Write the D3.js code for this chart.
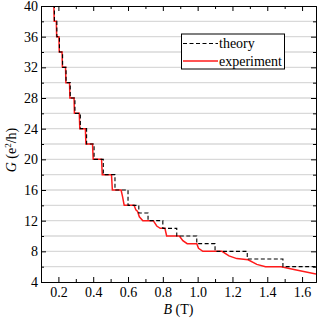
<!DOCTYPE html>
<html><head><meta charset="utf-8">
<script src="https://cdn.jsdelivr.net/npm/d3@7"></script>
<style>
html,body{margin:0;padding:0;background:#fff;}
svg{display:block;font-family:"Liberation Serif","DejaVu Serif",serif;}
</style></head>
<body>
<svg id="chart" width="317" height="323"></svg>
<script>
// ---- data ----
const theoryLevels = [40,38,36,34,32,30,28,26,24,22,20,18,16,14,13,12,11,10,9,8,7,6];
const theoryStartB = 0.165;
const theoryDropsB = [0.177,0.191,0.206,0.224,0.244,0.268,0.295,0.326,0.362,0.405,0.458,0.525,0.600,0.662,0.715,0.800,0.880,0.995,1.100,1.285,1.490];
const theoryEndB = 1.68;

const expB = [0.162,0.174,0.176,0.188,0.190,0.203,0.205,0.221,0.223,0.241,0.243,0.264,0.266,0.290,0.292,0.320,0.323,0.355,0.358,0.396,0.400,0.448,0.452,0.505,0.510,0.560,0.568,0.578,0.635,0.645,0.655,0.665,0.685,0.745,0.765,0.785,0.812,0.822,0.895,0.915,0.940,0.995,1.005,1.030,1.140,1.180,1.225,1.290,1.340,1.390,1.480,1.560,1.680];
const expG = [40.3,40,38,38,36,36,34,34,32,32,30,30,28,28,26,26,24,24,22,22,20,20,18,18,16,16,15.2,14,14,13.4,13.2,12.5,12,12,11.3,11,11,10,10,9.4,9,9,8.4,8,8,7.4,7.05,6.9,6.3,6,6,5.6,5.05];

const xMajorTicks = [0.2,0.4,0.6,0.8,1.0,1.2,1.4,1.6];
const xMinorTicks = [0.1,0.3,0.5,0.7,0.9,1.1,1.3,1.5];
const yMajorTicks = [4,8,12,16,20,24,28,32,36,40];
const yMinorTicks = [6,10,14,18,22,26,30,34,38];
const gridValues = [6,8,10,12,14,16,18,20,22,24,26,28,30,32,34,36,38];

// ---- layout ----
const L = 41, R = 316, T = 6, B = 282;
const svg = d3.select("#chart");
const x = d3.scaleLinear().domain([0.1, 1.68]).range([L, R]);
const y = d3.scaleLinear().domain([4, 40]).range([B, T]);

svg.append("defs").append("clipPath").attr("id","clip")
  .append("rect").attr("x",L).attr("y",T).attr("width",R-L).attr("height",B-T);

// grid
svg.append("g").selectAll("line").data(gridValues).join("line")
  .attr("x1",L).attr("x2",R).attr("y1",d=>y(d)).attr("y2",d=>y(d))
  .attr("stroke","#d9d9d9").attr("stroke-width",1.3);

// experiment
const line = d3.line().x(d=>x(d[0])).y(d=>y(d[1]));
const expData = expB.map((b,i)=>[b,expG[i]]);
svg.append("path").attr("clip-path","url(#clip)")
  .attr("d", line(expData)).attr("fill","none").attr("stroke","#ff1a1a").attr("stroke-width",1.5);

// theory
const thData = theoryLevels.map((g,i)=>[i===0?theoryStartB:theoryDropsB[i-1], g]);
thData.push([theoryEndB, theoryLevels[theoryLevels.length-1]]);
const stepLine = d3.line().x(d=>x(d[0])).y(d=>y(d[1])).curve(d3.curveStepAfter);
svg.append("path").attr("clip-path","url(#clip)")
  .attr("d", stepLine(thData)).attr("fill","none").attr("stroke","#000").attr("stroke-width",1.1)
  .attr("stroke-dasharray","4,2.5");

// axes (ticks inward)
function addAxis(gen, tx, ty){
  const g = svg.append("g").attr("transform",`translate(${tx},${ty})`).call(gen);
  g.select(".domain").attr("stroke","#000");
  return g;
}
const fontSize = 14;
// bottom
let g = addAxis(d3.axisBottom(x).tickValues(xMajorTicks).tickSize(-5).tickPadding(5).tickFormat(d3.format(".1f")),0,B);
g.selectAll("text").attr("font-size",fontSize).attr("font-family","Liberation Serif").attr("fill","#000");
addAxis(d3.axisBottom(x).tickValues(xMinorTicks).tickSize(-3).tickFormat(""),0,B).select(".domain").remove();
// top
g = addAxis(d3.axisTop(x).tickValues(xMajorTicks).tickSize(-5).tickFormat(""),0,T);
addAxis(d3.axisTop(x).tickValues(xMinorTicks).tickSize(-3).tickFormat(""),0,T).select(".domain").remove();
// left
g = addAxis(d3.axisLeft(y).tickValues(yMajorTicks).tickSize(-5).tickPadding(3),L,0);
g.selectAll("text").attr("font-size",fontSize).attr("font-family","Liberation Serif").attr("fill","#000");
addAxis(d3.axisLeft(y).tickValues(yMinorTicks).tickSize(-3).tickFormat(""),L,0).select(".domain").remove();
// right
addAxis(d3.axisRight(y).tickValues(yMajorTicks).tickSize(-5).tickFormat(""),R,0);
addAxis(d3.axisRight(y).tickValues(yMinorTicks).tickSize(-3).tickFormat(""),R,0).select(".domain").remove();
svg.selectAll(".tick line").attr("stroke","#000");
svg.selectAll(".domain").attr("stroke-width",1);

// axis titles
const xt = svg.append("text").attr("x",(L+R)/2).attr("y",314).attr("text-anchor","middle")
  .attr("font-size",14).attr("fill","#000");
xt.append("tspan").attr("font-style","italic").text("B");
xt.append("tspan").text(" (T)");

const yt = svg.append("text").attr("transform",`translate(16,150) rotate(-90)`).attr("text-anchor","middle")
  .attr("font-size",14).attr("fill","#000");
yt.append("tspan").attr("font-style","italic").text("G");
yt.append("tspan").text(" (e");
yt.append("tspan").attr("font-size",9).attr("dy",-5).text("2");
yt.append("tspan").attr("dy",5).text("/h)");

// legend
const lg = svg.append("g");
lg.append("rect").attr("x",181.5).attr("y",34).attr("width",103).attr("height",35)
  .attr("fill","#fff").attr("stroke","#000").attr("stroke-width",1);
lg.append("line").attr("x1",183).attr("x2",218).attr("y1",43.5).attr("y2",43.5)
  .attr("stroke","#000").attr("stroke-width",1.1).attr("stroke-dasharray","4,2.5");
lg.append("line").attr("x1",183).attr("x2",218).attr("y1",61).attr("y2",61)
  .attr("stroke","#ff1a1a").attr("stroke-width",1.5);
lg.append("text").attr("x",219).attr("y",48).attr("font-size",14).attr("fill","#000").text("theory");
lg.append("text").attr("x",219).attr("y",65.5).attr("font-size",14).attr("fill","#000").text("experiment");
</script>
</body></html>
